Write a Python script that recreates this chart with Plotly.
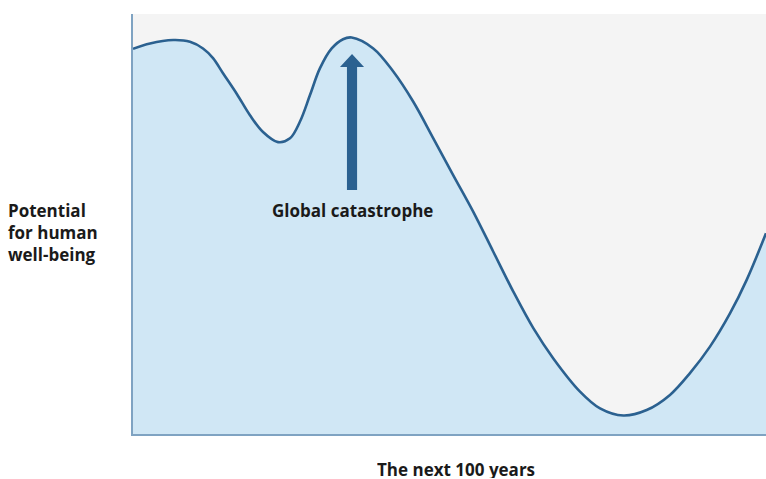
import plotly.graph_objects as go

# Curve: time (0-100 years) vs potential for well-being (0-100)
years = [0, 2.69, 6.37, 9.0, 11.06, 12.64, 14.22, 16.43, 18.48, 20.54, 22.91, 24.8, 26.38,
         27.96, 29.54, 31.39, 33.18, 34.55, 37.96, 41.12, 44.28, 47.44, 50.6, 53.76, 56.92,
         60.08, 63.24, 66.4, 70.62, 73.78, 77.46, 81.15, 84.83, 87.99, 91.15, 94.31,
         96.95, 100]
potential = [91.7, 93.0, 93.8, 93.4, 91.8, 89.5, 85.9, 80.9, 75.9, 71.9, 69.5, 70.4, 74.4,
             80.7, 87.1, 91.8, 94.0, 94.4, 91.8, 86.3, 79.1, 70.4, 61.6, 52.9, 43.4,
             33.9, 25.2, 18.0, 10.1, 6.1, 4.4, 5.7, 9.3, 14.5, 20.8, 28.7,
             36.7, 47.8]

# Arrow annotation (data coordinates)
arrow_x = 34.6
arrow_tip = 90.5
arrow_head_base = 87.4
arrow_bottom = 58.1
arrow_half_shaft = 0.8
arrow_half_head = 1.9
label_y = 53.1

label_text = "Global catastrophe"
y_label = "Potential<br>for human<br>well-being"
x_label = "The next 100 years"

line_color = "#2b6190"
fill_color = "#d0e7f5"
text_color = "#1a1a1a"
font_family = "'Open Sans', Roboto, sans-serif"
font_size = 17

fig = go.Figure()
fig.add_trace(go.Scatter(
    x=years, y=potential, mode="lines",
    line=dict(color=line_color, width=2.6, shape="spline", smoothing=1.0),
    fill="tozeroy", fillcolor=fill_color, hoverinfo="skip", showlegend=False,
))

path = (f"M {arrow_x - arrow_half_shaft},{arrow_bottom} "
        f"L {arrow_x - arrow_half_shaft},{arrow_head_base} "
        f"L {arrow_x - arrow_half_head},{arrow_head_base} "
        f"L {arrow_x},{arrow_tip} "
        f"L {arrow_x + arrow_half_head},{arrow_head_base} "
        f"L {arrow_x + arrow_half_shaft},{arrow_head_base} "
        f"L {arrow_x + arrow_half_shaft},{arrow_bottom} Z")
fig.add_shape(type="path", path=path, xref="x", yref="y",
              fillcolor=line_color, line=dict(width=0), layer="above")

fig.add_annotation(x=arrow_x, y=label_y, xref="x", yref="y", text=f"<b>{label_text}</b>",
                   showarrow=False, yanchor="middle",
                   font=dict(family=font_family, size=font_size, color=text_color))
fig.add_annotation(x=-0.2006, y=0.4786, xref="paper", yref="paper", xanchor="left",
                   yanchor="middle", align="left", text=f"<b>{y_label}</b>", showarrow=False,
                   font=dict(family=font_family, size=font_size, color=text_color))
fig.add_annotation(x=0.5095, y=-0.0595, xref="paper", yref="paper", yanchor="top",
                   height=18, borderpad=0, valign="middle",
                   text=f"<b>{x_label}</b>", showarrow=False,
                   font=dict(family=font_family, size=font_size, color=text_color))

fig.update_xaxes(range=[0, 100], showgrid=False, zeroline=False, showticklabels=False,
                 showline=True, linecolor="#7fa3c2", linewidth=2, ticks="")
fig.update_yaxes(range=[0, 100], showgrid=False, zeroline=False, showticklabels=False,
                 showline=True, linecolor="#7fa3c2", linewidth=2, ticks="")

fig.update_layout(
    width=766, height=479,
    margin=dict(l=133, r=0, t=14, b=45),
    plot_bgcolor="#f4f4f4", paper_bgcolor="white",
)

fig.write_html("out.html", config={"displayModeBar": False},
               post_script="document.body.style.margin='0';")
